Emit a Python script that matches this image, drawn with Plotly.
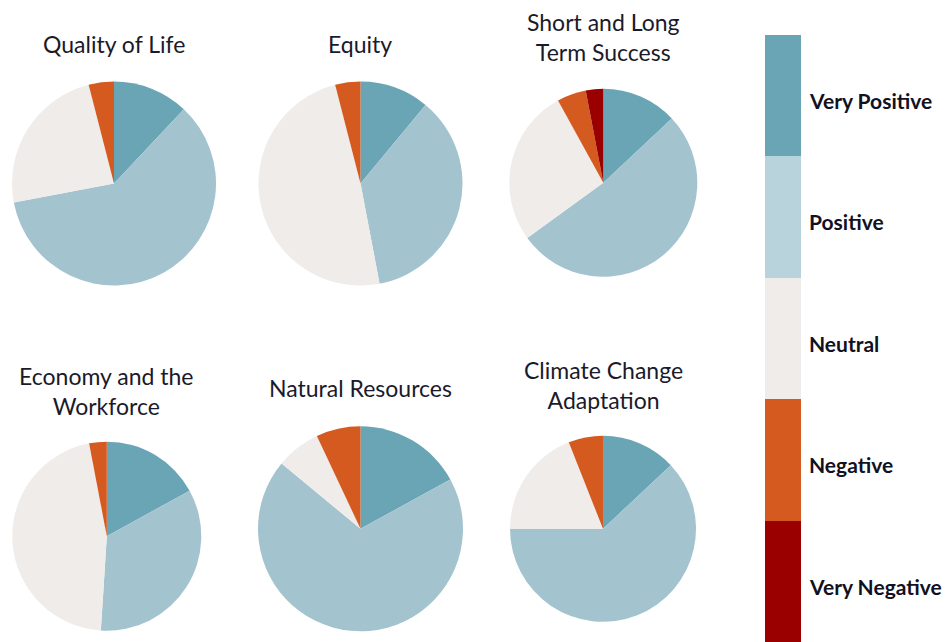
import plotly.graph_objects as go

W, H = 950, 642

categories = ["Very Positive", "Positive", "Neutral", "Negative", "Very Negative"]
colors = ["#6aa5b5", "#a3c3cf", "#f0ecea", "#d55a20", "#9b0000"]
legend_colors = ["#6aa5b5", "#b9d3dc", "#f0ecea", "#d55a20", "#9b0000"]

titles = ["Quality of Life", "Equity", "Short and Long<br>Term Success",
          "Economy and the<br>Workforce", "Natural Resources", "Climate Change<br>Adaptation"]

quality_of_life = [12, 60, 24, 4, 0]
equity = [11, 36, 49, 4, 0]
short_long_term = [13, 52, 27, 5, 3]
economy_workforce = [17, 34, 46, 3, 0]
natural_resources = [17, 69, 7, 7, 0]
climate_adaptation = [13, 62, 19, 6, 0]

series = [quality_of_life, equity, short_long_term,
          economy_workforce, natural_resources, climate_adaptation]

# pie centres / radii in pixels (layout)
centers = [(114, 183.5, 102), (360.5, 183.5, 102), (603.3, 182.8, 94),
           (106.8, 536.2, 94.5), (360.5, 528.8, 102.5), (603, 528.8, 93)]
title_pos = [(114, 44), (360, 44), (603, 37), (106, 391), (360, 388), (603, 385)]

FONT = "Lato"

fig = go.Figure()
for vals, (cx, cy, r) in zip(series, centers):
    fig.add_trace(go.Pie(
        labels=categories, values=vals, sort=False, direction="clockwise",
        rotation=0, textinfo="none", hoverinfo="label+percent",
        marker=dict(colors=colors, line=dict(width=0)),
        domain=dict(x=[(cx - r) / W, (cx + r) / W],
                    y=[1 - (cy + r) / H, 1 - (cy - r) / H]),
        showlegend=False,
    ))

# legend as a stacked bar on its own axes
legend_vals = [1, 1, 1, 1, 1]
for cat, col, v in zip(categories[::-1], legend_colors[::-1], legend_vals):
    fig.add_trace(go.Bar(x=[0], y=[v], marker=dict(color=col, line=dict(width=0)),
                         width=1, name=cat, showlegend=False, hoverinfo="name",
                         xaxis="x", yaxis="y"))

annotations = []
for t, (x, y) in zip(titles, title_pos):
    annotations.append(dict(text=t, x=x / W, y=1 - y / H, xref="paper", yref="paper",
                            showarrow=False, xanchor="center", yanchor="middle",
                            font=dict(family=FONT, size=23, color="#1a1a2a")))
for i, cat in enumerate(categories):
    annotations.append(dict(text=cat, x=807 / W, y=4.5 - i - 0.04, xref="paper", yref="y",
                            showarrow=False, xanchor="left", yanchor="middle",
                            font=dict(family=FONT, size=21, color="#111122",
                                      weight="bold")))

fig.update_layout(
    width=W, height=H, margin=dict(l=0, r=0, t=0, b=0),
    paper_bgcolor="white", plot_bgcolor="white",
    barmode="stack",
    xaxis=dict(domain=[765 / W, 801 / W], range=[-0.5, 0.5], visible=False, fixedrange=True),
    yaxis=dict(domain=[0, 1 - 35 / H], range=[0, 5], visible=False, fixedrange=True),
    annotations=annotations,
    bargap=0,
)

fig.write_html("out.html", config={"displayModeBar": False},
               post_script="document.body.style.margin='0';document.body.style.padding='0';")
